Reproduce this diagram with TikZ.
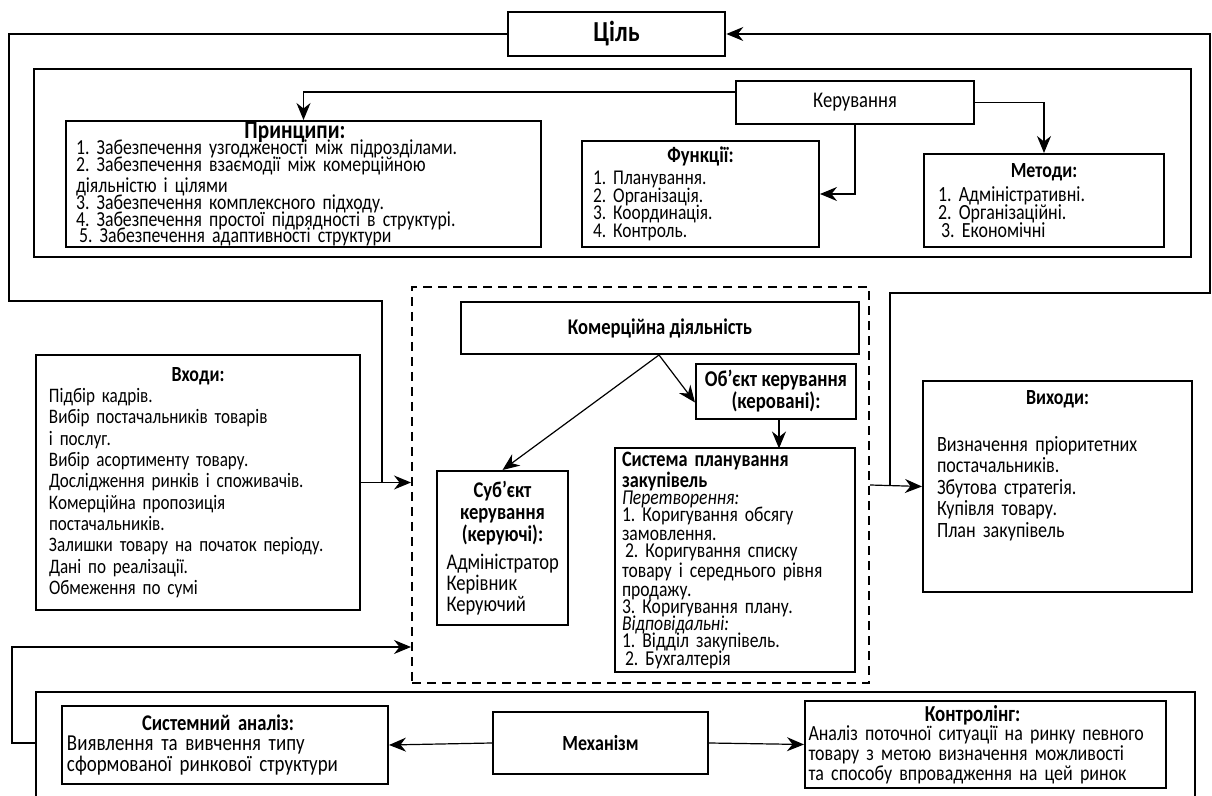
\documentclass[tikz,border=0pt]{standalone}
\usepackage{fontspec}
\setmainfont{Carlito}[FakeStretch=0.83]
\usetikzlibrary{arrows.meta}
\frenchspacing
\normallineskiplimit=-\maxdimen
\lineskiplimit=-\maxdimen

\begin{document}
\begin{tikzpicture}[x=0.5pt, y=-0.5pt,
    box/.style={draw, line width=1pt, inner sep=0pt, align=left, font=\fontsize{10.4}{10.6}\selectfont,
        execute at begin node={\lineskiplimit=-\maxdimen}},
    head/.style={font=\fontsize{11.2}{12}\selectfont\bfseries},
    wire/.style={line width=0.6pt},
    arr/.style={line width=0.6pt, -{Stealth[length=8.5pt, width=7pt]}}]
    \useasboundingbox (0,0) rectangle (1212,796);
    \clip (0,0) rectangle (1212,796); % bottom frame runs off the page

    \node[box, line width=1.3pt, minimum width=108.5pt, minimum height=22pt, align=center, font=\fontsize{14.5}{16}\selectfont\bfseries] (cil) at (616.5,34) {Ціль};

    \node[box, line width=1.2pt, minimum width=578.5pt, minimum height=94pt] (upr) at (612.5,163) {};
    \node[box, minimum width=119pt, minimum height=21.5pt, align=center, font=\fontsize{11.2}{12}\selectfont] (keruv) at (855,102.5) {Керування};
    \node[box, minimum width=237.5pt, minimum height=63pt, text width=227.5pt, font=\fontsize{10.7}{8.4}\selectfont] (princ) at (303.5,184)
        {{\centering\bfseries\fontsize{12.8}{12}\selectfont\hspace*{-8.5pt}Принципи:\par}
         1. Забезпечення узгодженості між підрозділами.\\
         2. Забезпечення взаємодії між комерційною\\[2pt]
         діяльністю і цілями\\
         3. Забезпечення комплексного підходу.\\
         4. Забезпечення простої підрядності в структурі.\\
         \hspace*{1.5pt}5. Забезпечення адаптивності структури};
    \node[box, minimum width=118.5pt, minimum height=53pt, text width=107.5pt, font=\fontsize{10.5}{8.9}\selectfont] (funk) at (700.5,194)
        {{\centering\bfseries\fontsize{11.2}{11}\selectfont Функції:\par}\vspace{2pt}
         1. Планування.\\ 2. Організація.\\ 3. Координація.\\ 4. Контроль.};
    \node[box, minimum width=120pt, minimum height=46.5pt, text width=106pt, font=\fontsize{10.8}{9.2}\selectfont] (metod) at (1044,200.5)
        {{\centering\bfseries\fontsize{10.8}{11}\selectfont Методи:\par}\vspace{2.8pt}
         1. Адміністративні.\\ 2. Організаційні.\\ \hspace*{1.5pt}3. Економічні};

    \draw[arr] (keruv.west) ++(0,-10.5) -| (princ.north);
    \draw[arr] (keruv.south) |- (funk.east);
    \draw[arr] (keruv.east) -| (metod.north);

    \node[box, minimum width=162pt, minimum height=127.5pt, text width=149pt, font=\fontsize{10.3}{10.65}\selectfont] (vkhody) at (198,482.5)
        {{\centering\bfseries\fontsize{10.8}{11}\selectfont Входи:\par}
         Підбір кадрів.\\
         Вибір постачальників товарів\\
         і послуг.\\
         Вибір асортименту товару.\\
         Дослідження ринків і споживачів.\\
         Комерційна пропозиція\\
         постачальників.\\
         Залишки товару на початок періоду.\\
         Дані по реалізації.\\
         Обмеження по сумі};

    \node[draw, line width=1pt, dash pattern=on 4.5pt off 3pt, inner sep=0pt, minimum width=228.5pt, minimum height=198pt] (kontur) at (640.5,485) {};
    \node[box, head, minimum width=199pt, minimum height=26pt, align=center] (komd) at (660,328) {Комерційна діяльність};
    \node[box, minimum width=80pt, minimum height=27.5pt, align=center, font=\fontsize{11.3}{11}\selectfont\bfseries] (obj) at (776,391.5) {Об’єкт керування\\(керовані):};
    \node[box, minimum width=65.5pt, minimum height=77pt, text width=56pt, font=\fontsize{11.2}{10.6}\selectfont] (subj) at (502.5,548)
        {{\centering\bfseries\fontsize{11.2}{11}\selectfont Суб’єкт\\ керування\\ (керуючі):\par}\vspace{3.4pt}
         Адміністратор\\ Керівник\\ Керуючий};
    \node[box, minimum width=120pt, minimum height=112pt, text width=113pt, font=\fontsize{10.6}{8.6}\selectfont] (syst) at (735,560)
        {{\bfseries\fontsize{11}{10.5}\selectfont Система планування\\ закупівель\par}
         \textit{Перетворення:}\\
         1. Коригування обсягу\\[1pt]
         замовлення.\\
         \hspace*{1.5pt}2. Коригування списку\\[1pt]
         товару і середнього рівня\\[1pt]
         продажу.\\
         3. Коригування плану.\\
         \textit{Відповідальні:}\\
         1. Відділ закупівель.\\
         \hspace*{1.5pt}2. Бухгалтерія};

    \draw[arr] (komd.south) ++(-1,0) coordinate (komdb) -- (subj.north);
    \draw[arr] (komdb) -- ([yshift=-5.5pt]obj.west);
    \draw[arr] (obj.south) ++(3,0) -- ++(0,28.5);

    \node[box, minimum width=134.5pt, minimum height=105.5pt] (vykh) at (1057.5,486.5) {};
    \node[anchor=north, inner sep=3pt, yshift=-2pt, text width=120.5pt, align=left, font=\fontsize{10.9}{10.75}\selectfont] (vykhtxt) at (vykh.north)
        {{\centering\bfseries\fontsize{10.8}{11}\selectfont Виходи:\par}\vspace{12.75pt}
         Визначення пріоритетних\\
         постачальників.\\
         Збутова стратегія.\\
         Купівля товару.\\
         План закупівель};

    % feedback loops round the target
    \coordinate (lupa) at (9,301);
    \coordinate (lupb) at (382,301);
    \coordinate (rupa) at (890,293);
    \coordinate (rupb) at (1210,293);
    \draw[wire] (cil.west) -| (lupa) -- (lupb) -- (lupb |- vkhody.east);
    \draw[arr] (vkhody.east) -- (vkhody.east -| kontur.west);
    \draw[arr] (kontur.east) -- (vykh.west);
    \draw[arr] (rupa |- vykh.west) -- (rupa) -- (rupb) |- (cil.east);

    \node[draw, line width=1.2pt, inner sep=0pt, minimum width=579.5pt, minimum height=69pt] (mekh) at (615.5,761) {};
    \node[box, minimum width=163pt, minimum height=39pt, text width=158pt, font=\fontsize{11.4}{10.25}\selectfont] (sysan) at (225,745)
        {{\centering\bfseries\fontsize{11.2}{11}\selectfont\hspace*{-7pt}Системний аналіз:\par}
         Виявлення та вивчення типу\\
         сформованої ринкової структури};
    \node[box, minimum width=107.5pt, minimum height=31pt, align=center, font=\fontsize{10.8}{12}\selectfont\bfseries] (mekhn) at (600.5,743) {Механізм};
    \node[box, minimum width=180.5pt, minimum height=43.5pt, text width=177pt, font=\fontsize{10.8}{9.8}\selectfont] (kontr) at (985.5,744.5)
        {{\centering\bfseries\fontsize{11.4}{11}\selectfont\hspace*{-13pt}Контролінг:\par}
         Аналіз поточної ситуації на ринку певного\\
         товару з метою визначення можливості\\
         та способу впровадження на цей ринок};

    \draw[arr] (mekhn.west) -- (sysan.east);
    \draw[arr] (mekhn.east) -- (kontr.west);

    \coordinate (bup) at (12,647);
    \draw[arr] (mekh.west |- mekhn.west) -| (bup) -- (bup -| kontur.west);
\end{tikzpicture}
\end{document}
